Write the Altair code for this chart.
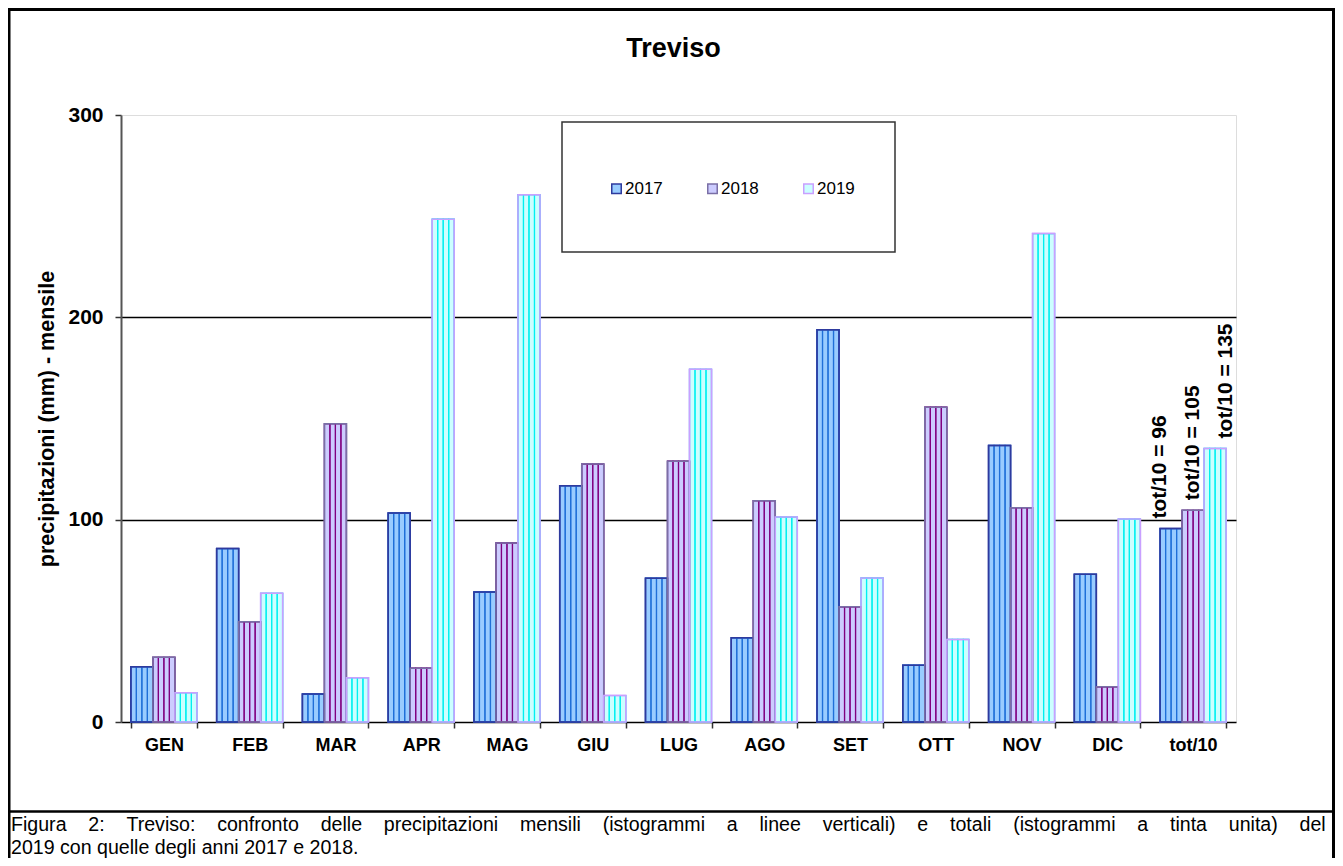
import altair as alt
import pandas as pd

# ---------------- data ----------------
months = ["GEN", "FEB", "MAR", "APR", "MAG", "GIU", "LUG", "AGO", "SET", "OTT", "NOV", "DIC", "tot/10"]
years = ["2017", "2018", "2019"]
v2017 = [27.3, 85.7, 13.8, 103.3, 64.3, 116.8, 71.1, 41.6, 193.9, 28.1, 136.7, 73.0, 95.6]
v2018 = [32.0, 49.6, 147.4, 26.6, 88.5, 127.5, 128.9, 109.4, 56.9, 155.6, 105.9, 17.4, 104.6]
v2019 = [14.5, 63.6, 21.9, 248.5, 260.6, 13.1, 174.3, 101.3, 71.2, 40.8, 241.4, 100.3, 135.2]
tot_labels = ["tot/10 = 96", "tot/10 = 105", "tot/10 = 135"]
y_ticks = [0, 100, 200, 300]
stripe_slots = [0, 1, 2, 3]

title_text = "Treviso"
y_title = "precipitazioni (mm) - mensile"
caption_1_words = ["Figura", "2:", "Treviso:", "confronto", "delle", "precipitazioni", "mensili",
                   "(istogrammi", "a", "linee", "verticali)", "e", "totali", "(istogrammi", "a",
                   "tinta", "unita)", "del"]
caption_2 = "2019 con quelle degli anni 2017 e 2018."

# justified first line: widen each gap with non-breaking spaces
caption_1 = (" \u00a0\u00a0\u00a0").join(caption_1_words)

# ---------------- styles ----------------
FONT = "Liberation Sans"
fill_colors = ["#99CCFF", "#CCCCFF", "#CCFFFF"]
stripe_colors = ["#1F6FD8", "#800080", "#00F0F0"]
edge_colors = ["#2E3A9E", "#7A6FA6", "#C9A0FF"]

series = {"2017": v2017, "2018": v2018, "2019": v2019}
rows = [{"mese": m, "anno": y, "valore": v} for y in years for m, v in zip(months, series[y])]
df = pd.DataFrame(rows)
slot_domain = [f"{y}_{k}" for y in years for k in stripe_slots]
df_stripes = pd.DataFrame([dict(r, slot=f"{r['anno']}_{k}") for r in rows for k in stripe_slots])
df_tot = pd.DataFrame({"mese": [months[-1]] * 3, "anno": years,
                       "valore": [v2017[-1], v2018[-1], v2019[-1]], "label": tot_labels})
one = pd.DataFrame({"k": [0]})

W, H = 1115, 607
PAD_BOTTOM = 136
BOTTOM = H + PAD_BOTTOM  # plot-relative y of the svg's bottom edge

x_axis = alt.Axis(title=None, labelFont=FONT, labelFontSize=18, labelFontWeight="bold",
                  labelColor="black", labelPadding=8, labelAngle=0, tickBand="extent",
                  tickSize=6, tickColor="#333333", tickWidth=1.5, domainColor="#000000",
                  domainWidth=1.5, grid=False)
y_axis = alt.Axis(values=y_ticks, title=y_title, titleFont=FONT, titleFontSize=21.5,
                  titleFontWeight="bold", titleColor="black", titlePadding=9,
                  labelFont=FONT, labelFontSize=21, labelFontWeight="bold", labelColor="black",
                  labelPadding=12, tickSize=6, tickColor="#333333", tickWidth=1.5,
                  domainColor="#555555", domainWidth=2, grid=True, gridWidth=1.5,
                  gridColor={"condition": {"test": "datum.value == 300 || datum.value == 0",
                                           "value": "transparent"}, "value": "#000000"})

x_enc = alt.X("mese:N", sort=months,
              scale=alt.Scale(domain=months, paddingInner=0.23, paddingOuter=0.115), axis=x_axis)
y_enc = alt.Y("valore:Q", scale=alt.Scale(domain=[0, 300], nice=False, zero=True), axis=y_axis)
xoff_year = alt.XOffset("anno:N", scale=alt.Scale(domain=years, paddingInner=0, paddingOuter=0))

legend = alt.Legend(orient="none", legendX=487, legendY=65, direction="horizontal", title=None,
                    symbolType="square", symbolSize=90, symbolStrokeWidth=1.5,
                    labelFont=FONT, labelFontSize=17, labelColor="black", labelOffset=0,
                    columnPadding=41, padding=0)

# frame + separator
frame_left = alt.Chart(one).mark_rule(color="black", strokeWidth=3).encode(
    x=alt.value(-112), y=alt.value(-107), y2=alt.value(BOTTOM))
frame_right = alt.Chart(one).mark_rule(color="black", strokeWidth=3).encode(
    x=alt.value(1212.5), y=alt.value(-107), y2=alt.value(BOTTOM))
frame_top = alt.Chart(one).mark_rule(color="black", strokeWidth=3).encode(
    x=alt.value(-113), x2=alt.value(1214), y=alt.value(-105.5))
separator = alt.Chart(one).mark_rule(color="black", strokeWidth=2.5).encode(
    x=alt.value(-113), x2=alt.value(1214), y=alt.value(696.5))

legend_box = alt.Chart(one).mark_rect(fill="white", stroke="#333333", strokeWidth=1.5).encode(
    x=alt.value(441), x2=alt.value(774), y=alt.value(7), y2=alt.value(137))

bars_fill = alt.Chart(df).mark_bar(strokeWidth=1.5).encode(
    x=x_enc, y=y_enc, xOffset=xoff_year,
    fill=alt.Fill("anno:N", scale=alt.Scale(domain=years, range=fill_colors), legend=legend),
    stroke=alt.Stroke("anno:N", scale=alt.Scale(domain=years, range=edge_colors), legend=legend),
)

stripes = alt.Chart(df_stripes).mark_bar(fillOpacity=0, strokeWidth=1.2).encode(
    x=x_enc, y=y_enc,
    xOffset=alt.XOffset("slot:N", scale=alt.Scale(domain=slot_domain, paddingInner=0, paddingOuter=0)),
    stroke=alt.Stroke("anno:N", scale=alt.Scale(domain=years, range=stripe_colors), legend=None),
)

outline = alt.Chart(df).mark_bar(fillOpacity=0, strokeWidth=1.5).encode(
    x=x_enc, y=y_enc, xOffset=xoff_year,
    stroke=alt.Stroke("anno:N", scale=alt.Scale(domain=years, range=edge_colors), legend=None),
)

tot_text = alt.Chart(df_tot).mark_text(angle=270, align="left", baseline="middle", dx=10,
                                       font=FONT, fontSize=21, fontWeight="bold",
                                       color="black").encode(
    x=x_enc, y=y_enc, xOffset=xoff_year, text="label:N")

title = alt.Chart(one).mark_text(font=FONT, fontSize=27, fontWeight="bold", color="black",
                                 align="center", baseline="alphabetic").encode(
    x=alt.value(552.5), y=alt.value(-58), text=alt.value(title_text))

cap1 = alt.Chart(one).mark_text(font=FONT, fontSize=19.6, color="black", align="left",
                                baseline="alphabetic").encode(
    x=alt.value(-110), y=alt.value(716), text=alt.value(caption_1))
cap2 = alt.Chart(one).mark_text(font=FONT, fontSize=19.6, color="black", align="left",
                                baseline="alphabetic").encode(
    x=alt.value(-110), y=alt.value(739), text=alt.value(caption_2))

chart = alt.layer(
    frame_left, frame_right, frame_top, separator, legend_box,
    bars_fill, stripes, outline, tot_text, title, cap1, cap2
).resolve_scale(
    xOffset="independent", stroke="independent", fill="independent"
).properties(
    width=W, height=H,
    autosize=alt.AutoSizeParams(type="none"),
    padding={"left": 113, "top": 107, "right": 99, "bottom": PAD_BOTTOM},
).configure_view(
    stroke="#A0A0A0", strokeWidth=1.5
).configure(font=FONT)

chart.save("out.html", embed_options={"renderer": "svg", "actions": False})
